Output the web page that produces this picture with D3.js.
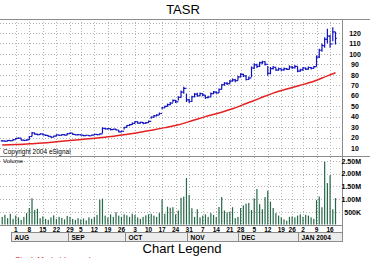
<!DOCTYPE html>
<html>
<head>
<meta charset="utf-8">
<script src="https://cdn.jsdelivr.net/npm/d3@7"></script>
<style>
body { margin: 0; background: #fff; }
svg { display: block; font-family: Arial, "Liberation Sans", sans-serif; }
</style>
</head>
<body>
<svg id="chart" width="370" height="258"></svg>
<script>
const symbol = "TASR"
const firstDay = "2003-07-25"
const lastDay = "2004-01-21"
const holidays = ["2003-09-01", "2003-11-27", "2003-12-25", "2004-01-01", "2004-01-19"]

// one entry per trading day
const closes = [16.8, 16.5, 17.2, 17.0, 18.0, 19.2, 19.5, 17.6, 17.2, 17.8,
	21.0, 24.5, 23.2, 22.8, 23.5, 22.6, 22.0, 21.2, 20.3, 21.4,
	22.5, 22.0, 22.8, 22.4, 23.8, 24.2, 23.0, 22.6, 22.8, 22.3,
	21.8, 22.2, 21.7, 22.4, 23.0, 22.8, 23.5, 28.8, 28.2, 28.5,
	27.6, 28.0, 27.2, 25.4, 26.0, 29.8, 31.5, 32.4, 33.6, 35.2,
	33.8, 34.5, 33.5, 34.2, 35.5, 39.5, 40.8, 41.5, 43.0, 48.5,
	49.8, 51.5, 53.0, 55.5, 54.2, 58.5, 63.5, 67.0, 56.0, 54.5,
	59.0, 61.5, 60.0, 62.0, 60.5, 58.2, 58.8, 62.0, 63.5, 62.8,
	66.0, 70.5, 72.0, 71.5, 74.0, 75.2, 74.5, 78.0, 80.5, 79.0,
	75.5, 77.0, 86.5, 89.5, 88.0, 91.5, 92.5, 90.0, 81.5, 86.0,
	87.2, 84.5, 85.8, 84.8, 86.0, 85.2, 87.5, 86.8, 88.0, 83.5,
	84.8, 86.5, 85.5, 87.0, 86.2, 87.8, 97.0, 103.5, 108.0, 114.0,
	117.0, 109.5, 121.0, 115.0]
const highs = [17.3, 17.0, 17.6, 17.5, 18.3, 19.6, 20.0, 19.3, 17.9, 18.2,
	21.4, 25.2, 24.6, 23.6, 23.9, 23.7, 22.8, 22.1, 21.5, 21.8,
	22.9, 22.7, 23.2, 23.1, 24.3, 24.8, 24.3, 23.2, 23.3, 22.9,
	22.5, 22.6, 22.4, 22.7, 23.3, 23.4, 23.9, 29.8, 29.2, 29.1,
	28.7, 28.4, 28.3, 27.3, 26.5, 30.2, 32.0, 33.0, 34.3, 35.8,
	35.4, 35.0, 34.8, 34.8, 36.2, 40.1, 41.6, 42.4, 44.0, 49.3,
	50.5, 52.5, 54.0, 56.5, 56.0, 59.5, 65.0, 68.5, 62.0, 57.0,
	60.0, 62.5, 62.8, 63.0, 62.5, 60.5, 60.0, 63.0, 64.5, 64.0,
	66.8, 71.0, 73.0, 72.8, 75.0, 76.5, 76.0, 79.0, 81.5, 81.0,
	79.5, 78.5, 88.0, 91.0, 90.5, 92.5, 93.5, 93.0, 88.5, 87.5,
	88.5, 87.0, 86.8, 86.0, 87.0, 86.5, 89.0, 88.5, 89.5, 88.0,
	85.8, 87.5, 87.0, 88.0, 87.5, 88.5, 98.5, 105.0, 110.0, 116.0,
	124.0, 118.0, 125.5, 121.0]
const lows = [16.2, 16.0, 16.4, 16.5, 16.9, 18.1, 18.8, 17.2, 16.8, 17.1,
	17.9, 21.0, 22.6, 22.2, 22.5, 22.1, 21.5, 20.8, 19.9, 20.2,
	21.2, 21.6, 21.9, 22.0, 22.3, 23.5, 22.7, 22.1, 22.3, 21.9,
	21.3, 21.6, 21.3, 21.6, 22.2, 22.3, 22.6, 24.0, 27.6, 27.8,
	27.0, 27.2, 26.8, 25.0, 25.2, 27.8, 29.4, 31.0, 32.0, 33.4,
	33.2, 33.4, 32.8, 33.2, 34.0, 38.0, 39.0, 40.3, 41.5, 47.0,
	48.0, 49.5, 51.0, 53.5, 53.0, 55.5, 58.0, 62.0, 54.0, 53.0,
	54.0, 58.5, 59.0, 59.5, 59.5, 57.0, 57.5, 58.5, 61.5, 61.8,
	62.5, 66.0, 69.5, 70.2, 71.0, 73.5, 73.0, 74.5, 77.5, 78.0,
	74.5, 75.0, 78.0, 85.5, 86.5, 87.5, 90.0, 89.0, 79.0, 80.5,
	85.0, 84.0, 84.0, 83.5, 84.0, 84.5, 85.0, 85.5, 86.0, 82.5,
	83.0, 84.0, 84.5, 85.0, 85.0, 86.0, 88.0, 96.0, 102.0, 106.0,
	110.0, 106.0, 112.0, 109.0]
// millions of shares
const volumes = [0.30, 0.38, 0.25, 0.42, 0.22, 0.35, 0.28, 0.18, 0.30, 0.45,
	0.65, 1.03, 0.57, 0.62, 0.25, 0.32, 0.22, 0.18, 0.28, 0.36,
	0.22, 0.30, 0.26, 0.20, 0.34, 0.30, 0.22, 0.18, 0.25, 0.20,
	0.24, 0.16, 0.28, 0.22, 0.30, 0.38, 0.98, 1.02, 0.35, 0.28,
	0.40, 0.30, 0.48, 0.35, 0.30, 0.40, 0.36, 0.30, 0.42, 0.38,
	0.28, 0.22, 0.30, 0.36, 0.40, 0.42, 0.35, 0.30, 0.45, 1.00,
	0.42, 0.70, 0.66, 0.68, 0.40, 0.55, 1.05, 1.10, 1.83, 1.16,
	0.64, 0.30, 0.60, 0.28, 0.35, 0.40, 0.30, 0.45, 0.38, 0.30,
	0.69, 1.08, 0.55, 0.48, 0.50, 0.68, 0.25, 0.30, 0.65, 0.75,
	0.82, 0.85, 0.57, 1.03, 1.40, 0.80, 0.60, 1.08, 1.33, 0.90,
	0.65, 0.45, 0.35, 0.28, 0.20, 0.15, 0.30, 0.32, 0.28, 0.35,
	0.40, 0.30, 0.38, 0.35, 0.28, 0.22, 0.96, 1.10, 0.68, 2.47,
	1.63, 1.94, 0.60, 1.04]

// moving average (red), read every 5th bar
const maBars = [0, 5, 10, 15, 20, 25, 30, 35, 40, 45, 50, 55, 60, 65, 70, 75, 80, 85, 90, 95, 100, 105, 110, 115, 120, 123]
const maValues = [12.9, 13.3, 14.0, 14.8, 16.0, 17.2, 18.3, 19.5, 21.0, 22.6, 24.6, 27.0, 29.5, 32.2, 36.0,
	40.0, 43.5, 47.5, 52.5, 57.5, 62.5, 66.5, 70.0, 73.8, 79.0, 82.0]

const priceTicks = [10, 20, 30, 40, 50, 60, 70, 80, 90, 100, 110, 120]
const priceGrid = [10, 20, 30, 40, 50, 60, 70, 80, 90, 100, 110, 120, 130]
const volumeTicks = [0.5, 1.0, 1.5, 2.0, 2.5]
const volumeLabels = ["500K", "1.00M", "1.50M", "2.00M", "2.50M"]
const weekTicks = ["2003-08-01", "2003-08-08", "2003-08-15", "2003-08-22", "2003-08-29",
	"2003-09-05", "2003-09-12", "2003-09-19", "2003-09-26", "2003-10-03", "2003-10-10",
	"2003-10-17", "2003-10-24", "2003-10-31", "2003-11-07", "2003-11-14", "2003-11-21",
	"2003-11-28", "2003-12-05", "2003-12-12", "2003-12-19", "2003-12-26", "2004-01-02",
	"2004-01-09", "2004-01-16"]
const monthLabels = ["AUG", "SEP", "OCT", "NOV", "DEC", "JAN 2004"]
const monthStarts = ["2003-08-01", "2003-09-02", "2003-10-01", "2003-11-03", "2003-12-01", "2004-01-02"]

const fmt = d3.timeFormat("%Y-%m-%d")
const parse = d3.timeParse("%Y-%m-%d")
const days = d3.timeDay.range(parse(firstDay), d3.timeDay.offset(parse(lastDay), 1))
	.filter(d => d.getDay() !== 0 && d.getDay() !== 6 && !holidays.includes(fmt(d)))
	.map(fmt)

const plotRight = 342
const priceTop = 19, panelSplit = 156, volBottom = 225
const blue = "#1010c0", red = "#e42222", green = "#256848", gridColor = "#b4b4b4"

const svg = d3.select("#chart")

const x = d3.scalePoint().domain(days).range([2.2, 335.5])
const y = d3.scaleLinear().domain([10, 120]).range([148, 33])
const yv = d3.scaleLinear().domain([0, 2.5]).range([224.5, 161])

svg.append("text")
	.attr("x", 183).attr("y", 14)
	.attr("text-anchor", "middle")
	.attr("font-size", 13)
	.text(symbol)

// grid
const grid = svg.append("g").attr("stroke", gridColor).attr("stroke-dasharray", "1,2").attr("stroke-width", 1)
grid.selectAll(".hp").data(priceGrid).join("line")
	.attr("x1", 0).attr("x2", plotRight)
	.attr("y1", d => Math.round(y(d)) + 0.5).attr("y2", d => Math.round(y(d)) + 0.5)
grid.selectAll(".hv").data(volumeTicks).join("line")
	.attr("x1", 0).attr("x2", plotRight)
	.attr("y1", d => Math.round(yv(d)) + 0.5).attr("y2", d => Math.round(yv(d)) + 0.5)
grid.selectAll(".v").data(weekTicks).join("line")
	.attr("x1", d => Math.round(x(d)) + 0.5).attr("x2", d => Math.round(x(d)) + 0.5)
	.attr("y1", priceTop).attr("y2", volBottom)

// frame
const frame = svg.append("g").attr("stroke", "#8c8c8c").attr("fill", "none")
frame.append("line").attr("x1", 0).attr("x2", 370).attr("y1", priceTop + 0.5).attr("y2", priceTop + 0.5)
frame.append("line").attr("x1", 0).attr("x2", 370).attr("y1", panelSplit + 0.5).attr("y2", panelSplit + 0.5)
frame.append("line").attr("x1", 0).attr("x2", plotRight).attr("y1", volBottom + 0.5).attr("y2", volBottom + 0.5)
frame.append("line").attr("x1", plotRight + 0.5).attr("x2", plotRight + 0.5).attr("y1", priceTop).attr("y2", 242)

// price bars
const bars = svg.append("g").attr("stroke", blue).attr("stroke-width", 1.2)
bars.selectAll(".hl").data(days).join("line")
	.attr("x1", d => x(d)).attr("x2", d => x(d))
	.attr("y1", (d, i) => y(highs[i])).attr("y2", (d, i) => y(lows[i]))
bars.selectAll(".op").data(days).join("line")
	.attr("x1", d => x(d) - 1.4).attr("x2", d => x(d))
	.attr("y1", (d, i) => y(i > 0 ? closes[i - 1] : closes[i]))
	.attr("y2", (d, i) => y(i > 0 ? closes[i - 1] : closes[i]))
bars.selectAll(".cl").data(days).join("line")
	.attr("x1", d => x(d)).attr("x2", d => x(d) + 1.4)
	.attr("y1", (d, i) => y(closes[i])).attr("y2", (d, i) => y(closes[i]))

// moving average
const maLine = d3.line()
	.x(d => x(days[d[0]]))
	.y(d => y(d[1]))
	.curve(d3.curveMonotoneX)
svg.append("path")
	.datum(maBars.map((b, i) => [b, maValues[i]]))
	.attr("fill", "none")
	.attr("stroke", red)
	.attr("stroke-width", 1.5)
	.attr("d", maLine)

// volume
svg.append("g").selectAll("rect").data(days).join("rect")
	.attr("x", d => x(d) - 0.6)
	.attr("width", 1.2)
	.attr("y", (d, i) => yv(volumes[i]))
	.attr("height", (d, i) => yv(0) - yv(volumes[i]))
	.attr("fill", green)

svg.append("text").attr("x", 3).attr("y", 153.5).attr("font-size", 6.5).text("Copyright 2004 eSignal")
svg.append("text").attr("x", 3).attr("y", 163).attr("font-size", 6).text("Volume")

// right axes
const priceAxis = svg.append("g")
	.attr("transform", `translate(355,0)`)
	.call(d3.axisRight(y).tickValues(priceTicks).tickSize(0).tickPadding(0))
priceAxis.select(".domain").remove()
priceAxis.selectAll("text").attr("text-anchor", "middle").attr("font-size", 7).attr("font-weight", "bold")
	.attr("font-family", "Arial, sans-serif")

const volAxis = svg.append("g")
	.attr("transform", `translate(361,0)`)
	.call(d3.axisRight(yv).tickValues(volumeTicks).tickFormat((d, i) => volumeLabels[i]).tickSize(0).tickPadding(0))
volAxis.select(".domain").remove()
volAxis.selectAll("text").attr("text-anchor", "end").attr("font-size", 7).attr("font-weight", "bold")
	.attr("font-family", "Arial, sans-serif")

// date row
svg.append("g").selectAll("text").data(weekTicks).join("text")
	.attr("x", d => x(d))
	.attr("y", 231.5)
	.attr("text-anchor", "middle")
	.attr("font-size", 6.5)
	.attr("font-weight", "bold")
	.text(d => +d.slice(8))

// month row
const monthX = monthStarts.map(d => Math.round(x(d)) - 4.5)
const months = svg.append("g")
months.selectAll("rect").data(monthLabels).join("rect")
	.attr("x", (d, i) => monthX[i])
	.attr("y", 232.5)
	.attr("width", (d, i) => (i < monthX.length - 1 ? monthX[i + 1] : plotRight + 0.5) - monthX[i])
	.attr("height", 9)
	.attr("fill", "#ececec")
	.attr("stroke", "#8c8c8c")
months.selectAll("text").data(monthLabels).join("text")
	.attr("x", (d, i) => monthX[i] + 3)
	.attr("y", 239.5)
	.attr("font-size", 6.5)
	.attr("font-weight", "bold")
	.text(d => d)

svg.append("text")
	.attr("x", 182).attr("y", 252.5)
	.attr("text-anchor", "middle")
	.attr("font-size", 13)
	.text("Chart Legend")
svg.append("text")
	.attr("x", 15).attr("y", 262)
	.attr("font-size", 8)
	.attr("fill", "#d02020")
	.text("Stock Market Legend")
</script>
</body>
</html>
